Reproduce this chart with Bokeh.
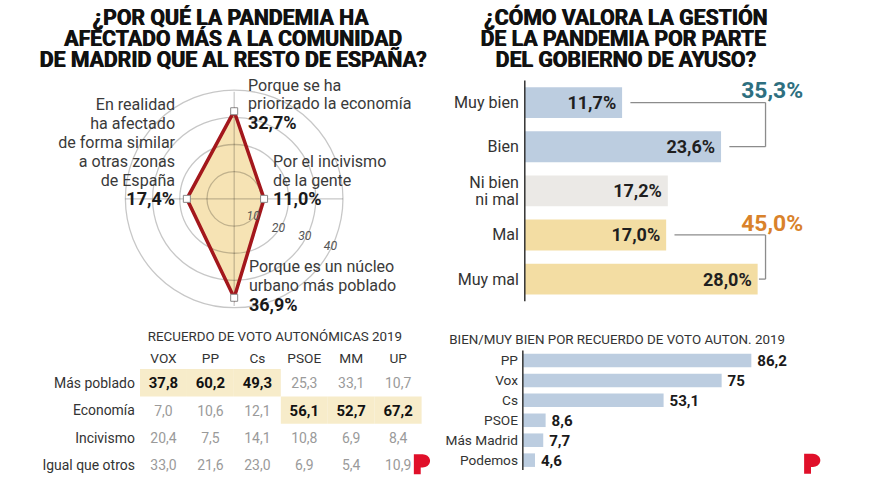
import math
from bokeh.plotting import figure
from bokeh.models import Range1d
from bokeh.core.properties import value
from bokeh.embed import file_html
from bokeh.resources import INLINE

# ---------------- data ----------------
radar_title = ["¿POR QUÉ  LA PANDEMIA HA", "AFECTADO MÁS A LA COMUNIDAD", "DE MADRID QUE AL RESTO DE ESPAÑA?"]
radar_cats = ["Porque se ha\npriorizado la economía",
              "Por el incivismo\nde la gente",
              "Porque es un núcleo\nurbano más poblado",
              "En realidad\nha afectado\nde forma similar\na otras zonas\nde España"]
radar_vals = [32.7, 11.0, 36.9, 17.4]
radar_rings = [10, 20, 30, 40]

rating_title = ["¿CÓMO VALORA LA GESTIÓN", "DE LA PANDEMIA POR  PARTE", "DEL GOBIERNO DE AYUSO?"]
rating_cats = ["Muy bien", "Bien", "Ni bien\nni mal", "Mal", "Muy mal"]
rating_vals = [11.7, 23.6, 17.2, 17.0, 28.0]
rating_groups = ["bien", "bien", "neutral", "mal", "mal"]

party_title = "BIEN/MUY BIEN POR RECUERDO DE VOTO AUTON. 2019"
party_cats = ["PP", "Vox", "Cs", "PSOE", "Más Madrid", "Podemos"]
party_vals = [86.2, 75, 53.1, 8.6, 7.7, 4.6]

table_title = "RECUERDO DE VOTO AUTONÓMICAS 2019"
table_cols = ["VOX", "PP", "Cs", "PSOE", "MM", "UP"]
table_rows = ["Más poblado", "Economía", "Incivismo", "Igual que otros"]
mas_poblado = [37.8, 60.2, 49.3, 25.3, 33.1, 10.7]
economia = [7.0, 10.6, 12.1, 56.1, 52.7, 67.2]
incivismo = [20.4, 7.5, 14.1, 10.8, 6.9, 8.4]
igual_que_otros = [33.0, 21.6, 23.0, 6.9, 5.4, 10.9]
table_vals = [mas_poblado, economia, incivismo, igual_que_otros]

# ---------------- style ----------------
FONT = "Roboto"
BLUE, GREY, YELLOW = "#bccde0", "#ebe9e6", "#f3dda3"
GROUP_COL = {"bien": BLUE, "neutral": GREY, "mal": YELLOW}
TOTAL_COL = {"bien": "#2e6f80", "mal": "#d9822b"}
TXT = "#333333"
LOGO_RED = "#e0102a"

W, H = 864, 479                 # figure size (fits the 880x495 window with 8px margin)
X0, X1, Y0, Y1 = 0, 880, 0, 495  # layout units of the canvas
KX, KY = W / (X1 - X0), H / (Y1 - Y0)
KF = (KX + KY) / 2


def fmt(v, d=1):
    return f"{v:.{d}f}".replace(".", ",")


p = figure(width=W, height=H, x_range=Range1d(X0, X1), y_range=Range1d(Y1, Y0),
           x_axis_type=None, y_axis_type=None, output_backend="svg",
           toolbar_location=None, min_border=0, outline_line_color=None)
p.grid.visible = False
p.background_fill_color = "white"
p.border_fill_color = "white"


def add_ranges(name, ox, sx, oy, sy):
    p.extra_x_ranges[name] = Range1d((X0 - ox) / sx, (X1 - ox) / sx)
    p.extra_y_ranges[name] = Range1d((Y1 - oy) / sy, (Y0 - oy) / sy)
    return dict(x_range_name=name, y_range_name=name)


def text(xs, ys, texts, size, color=TXT, bold=False, italic=False, align="left",
         baseline="middle", rng=None, xo=0, yo=0, font=FONT):
    kw = rng or {}
    style = "bold italic" if (bold and italic) else "bold" if bold else "italic" if italic else "normal"
    p.text(x=xs, y=ys, text=texts, text_font=value(font), text_font_size=f"{size * KF:.2f}px",
           text_color=color, text_font_style=style, text_align=align,
           text_baseline=baseline, x_offset=xo * KX, y_offset=yo * KY, **kw)


# ---------------- titles ----------------
for cx, lines in ((237, radar_title), (637, rating_title)):
    for k, line in enumerate(lines):
        for dx in (-0.4, 0.4):
            text([cx], [17.5 + 21.5 * k], [line], 21.8, color="#111111", bold=True,
                 align="center", xo=dx)

# ---------------- radar ----------------
RS = 2.77
R = add_ranges("radar", 238, RS, 205, -RS)
angles = [math.radians(90 - 90 * i) for i in range(len(radar_vals))]
px = [v * math.cos(a) for v, a in zip(radar_vals, angles)]
py = [v * math.sin(a) for v, a in zip(radar_vals, angles)]
rmax = max(radar_rings)
p.patch(px, py, fill_color="#f6e3b4", line_color=None, **R)
p.circle(x=[0] * len(radar_rings), y=[0] * len(radar_rings), radius=radar_rings,
         fill_color=None, line_color="black", line_alpha=0.22, line_width=1.3, **R)
p.segment(x0=[0] * 4, y0=[0] * 4, x1=[rmax * math.cos(a) for a in angles],
          y1=[rmax * math.sin(a) for a in angles], line_color="black", line_alpha=0.22,
          line_width=1.2, **R)
p.patch(px, py, fill_color=None, line_color="#a3171c", line_width=3.5, line_join="miter", **R)
p.scatter(px, py, marker="square", size=7, fill_color="white", line_color="#8a8a8a",
          line_width=1, **R)
ring_ang = [math.radians(a) for a in (-42, -33, -28, -26)]
text([(r - 0.6) * math.cos(a) for r, a in zip(radar_rings, ring_ang)],
     [(r - 0.6) * math.sin(a) for r, a in zip(radar_rings, ring_ang)],
     [str(r) for r in radar_rings], 12.5, color="#555555", italic=True, align="center", rng=R)

lab_dx = [14, 9, 15, -12]
lab_dy = [12, 0, 7, 0]
lab_al = ["left", "left", "left", "right"]
for i, (cat, v) in enumerate(zip(radar_cats, radar_vals)):
    lines = cat.split("\n")
    n = len(lines) + 1
    for k, line in enumerate(lines):
        text([px[i]], [py[i]], [line], 16.5, color="#3a3a3a", align=lab_al[i], rng=R,
             xo=lab_dx[i], yo=lab_dy[i] - (n - 1 - k) * 19.5)
    text([px[i]], [py[i]], [fmt(v) + "%"], 18.5, color="#1a1a1a", bold=True,
         align=lab_al[i], rng=R, xo=lab_dx[i], yo=lab_dy[i])

# ---------------- rating bars ----------------
B = add_ranges("rate", 534, 8.47, 105.5, 45.6)
ridx = list(range(len(rating_vals)))
p.hbar(y=ridx, left=0, right=rating_vals, height=0.70,
       fill_color=[GROUP_COL[g] for g in rating_groups], line_color=None, **B)
p.segment(x0=[0], y0=[-0.5], x1=[0], y1=[len(rating_vals) - 0.5], line_color="#333333",
          line_width=1.5, **B)
text(rating_vals, ridx, [fmt(v) + "%" for v in rating_vals], 18.5, color="#1f1f1f",
     bold=True, align="right", rng=B, xo=-6)
for i, cat in enumerate(rating_cats):
    lines = cat.split("\n")
    for k, line in enumerate(lines):
        text([0], [i], [line], 16.5, color=TXT, align="right", rng=B, xo=-6,
             yo=(k - (len(lines) - 1) / 2) * 18)
bx = max(rating_vals) + 0.95
for g in ("bien", "mal"):
    members = [i for i, gg in enumerate(rating_groups) if gg == g]
    vals = [rating_vals[i] for i in members]
    p.segment(x0=[min(v + 1.0, bx - 0.8) for v in vals], y0=members, x1=[bx] * len(members),
              y1=members, line_color="#8c8c8c", line_width=1.3, **B)
    p.segment(x0=[bx], y0=[members[0]], x1=[bx], y1=[members[-1]],
              line_color="#8c8c8c", line_width=1.3, **B)
    text([bx + 0.8], [members[0] - 0.27], [fmt(sum(vals)) + "%"], 23.5,
         color=TOTAL_COL[g], bold=True, align="center", rng=B)

# ---------------- party bars ----------------
S = add_ranges("party", 532, 2.70, 372, 20.6)
pidx = list(range(len(party_vals)))
text([457], [350], [party_title], 13.7, color=TXT)
p.hbar(y=pidx, left=0, right=party_vals, height=0.68, fill_color=BLUE, line_color=None, **S)
p.segment(x0=[0], y0=[-0.5], x1=[0], y1=[len(party_vals) - 0.5], line_color="#333333",
          line_width=1.5, **S)
text(party_vals, pidx, [str(v).replace(".", ",") for v in party_vals], 15.5,
     color="#1a1a1a", bold=True, rng=S, xo=6)
text([0] * len(party_cats), pidx, party_cats, 14, color=TXT, align="right", rng=S, xo=-5)

# ---------------- table ----------------
T = add_ranges("table", 166, 47.8, 395, 28.3)
ncol = len(table_cols)
best = [max(range(len(table_vals)), key=lambda r: table_vals[r][j]) for j in range(ncol)]
p.rect(x=list(range(ncol)), y=best, width=1, height=1, fill_color="#f7ecca",
       line_color=None, **T)
text([-0.335], [-1.70], [table_title], 13.7, color=TXT, rng=T)
text(list(range(ncol)), [-0.92] * ncol, table_cols, 14, color=TXT, align="center", rng=T)
text([-0.61] * len(table_rows), list(range(len(table_rows))), table_rows, 14.3, color=TXT,
     align="right", rng=T)
for i, row in enumerate(table_vals):
    for j, v in enumerate(row):
        hi = best[j] == i
        text([j], [i], [fmt(v)], 15.3 if hi else 14.3, color="#111111" if hi else "#9a9a9a",
             bold=hi, align="center", rng=T)

# ---------------- logos (solid "P" mark) ----------------
def logo_outline(left, top, w=16.5, h=20.5, stem=7.0, bowl=13.5):
    rx, ry = w - 9.0, bowl / 2
    xs, ys = [left, left + 9.0], [top, top]
    for k in range(0, 19):
        t = math.radians(-90 + 10 * k)
        xs.append(left + 9.0 + rx * math.cos(t))
        ys.append(top + ry + ry * math.sin(t))
    xs += [left + stem, left + stem, left]
    ys += [top + bowl, top + h, top + h]
    return xs, ys

lx1, ly1 = logo_outline(421, 469)
lx2, ly2 = logo_outline(818.5, 468.5)
p.patches([lx1, lx2], [ly1, ly2], fill_color=LOGO_RED, line_color=None)

open("out.html", "w").write(file_html(p, INLINE))
